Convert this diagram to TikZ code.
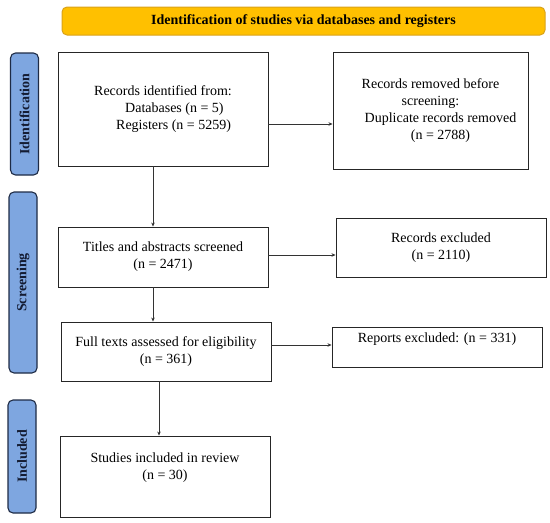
\documentclass[tikz,border=0pt]{standalone}
\usepackage{fontspec}
\setmainfont{Liberation Serif}
\usetikzlibrary{arrows.meta,calc}
\definecolor{bannerfill}{HTML}{FFC000}
\definecolor{bannerdraw}{HTML}{D9A21A}
\definecolor{sidefill}{HTML}{7EA6E0}
\definecolor{sidedraw}{HTML}{1E2B45}
\definecolor{sidetext}{HTML}{141C33}
\begin{document}
\begin{tikzpicture}[x=1pt,y=-1pt,
  box/.style={draw=black!85, line width=0.9pt, fill=white, inner sep=0pt, minimum width=210pt,
    font=\fontsize{14}{17}\selectfont, align=center},
  txt/.style={inner sep=0pt, font=\fontsize{14}{17}\selectfont, align=center},
  side/.style={draw=sidedraw, line width=1.1pt, fill=sidefill, rounded corners=5pt, inner sep=0pt,
    minimum width=28pt, text=sidetext, font=\fontsize{14}{16}\selectfont\bfseries},
  arr/.style={draw=black!80, line width=0.6pt, -{Stealth[length=4pt,width=3.5pt]}}
]
\useasboundingbox (0,0) rectangle (550,523);
% banner
\node[draw=bannerdraw, line width=1pt, fill=bannerfill, rounded corners=5pt, minimum width=483pt,
  minimum height=28pt, inner sep=0pt, font=\fontsize{14}{16}\selectfont\bfseries] (ban) at (303.5,21)
  {Identification of studies via databases and registers};
% side labels
\node[side, minimum height=122pt] (sid) at (24.5,114) {\rotatebox{90}{Identification}};
\node[side, minimum height=181pt] (sscr) at (23,282.5) {\rotatebox{90}{Screening}};
\node[side, minimum height=113pt] (sinc) at (22,456.5) {\rotatebox{90}{Included}};
% boxes
\node[box, minimum height=114pt, align=left] (b1) at (163,109)
  {Records identified from:\\\hspace*{31pt}Databases (n = 5)\\\hspace*{22pt}Registers (n = 5259)};
\node[box, minimum width=195pt, minimum height=117pt] (b2) at (430.5,110.5)
  {Records removed before\\screening:\\\hspace*{20pt}Duplicate records removed\\\hspace*{20pt}(n = 2788)};
\node[box, minimum height=60pt] (b3) at (163,257) {Titles and abstracts screened\\(n = 2471)};
\node[box, minimum height=59pt] (b4) at (441,247.5) {Records excluded\\(n = 2110)};
\node[box, minimum height=59pt] (b5) at (166,351.5) {Full texts assessed for eligibility\\(n = 361)};
\node[box, minimum height=40pt] (b6) at (437,347) {};
\node[txt] (t6) at (437,339) {Reports excluded: (n = 331)};
\node[box, minimum height=81pt] (b7) at (165,476.5) {};
\node[txt] (t7) at (165,468) {Studies included in review\\(n = 30)};
% arrows
\draw[arr] ([yshift=-15pt]b1.east) -- ([yshift=-15pt]b1.east -| b2.west);
\draw[arr] ([xshift=-10pt]b1.south) -- ([xshift=-10pt]b1.south |- b3.north);
\draw[arr] ([yshift=2pt]b3.east) -- ([yshift=2pt]b3.east -| b4.west);
\draw[arr] ([xshift=-10pt]b3.south) -- ([xshift=-10pt]b3.south |- b5.north);
\draw[arr] ([yshift=6.5pt]b5.east) -- ([yshift=6.5pt]b5.east -| b6.west);
\draw[arr] ([xshift=-7pt]b5.south) -- ([xshift=-7pt]b5.south |- b7.north);
\end{tikzpicture}
\end{document}
